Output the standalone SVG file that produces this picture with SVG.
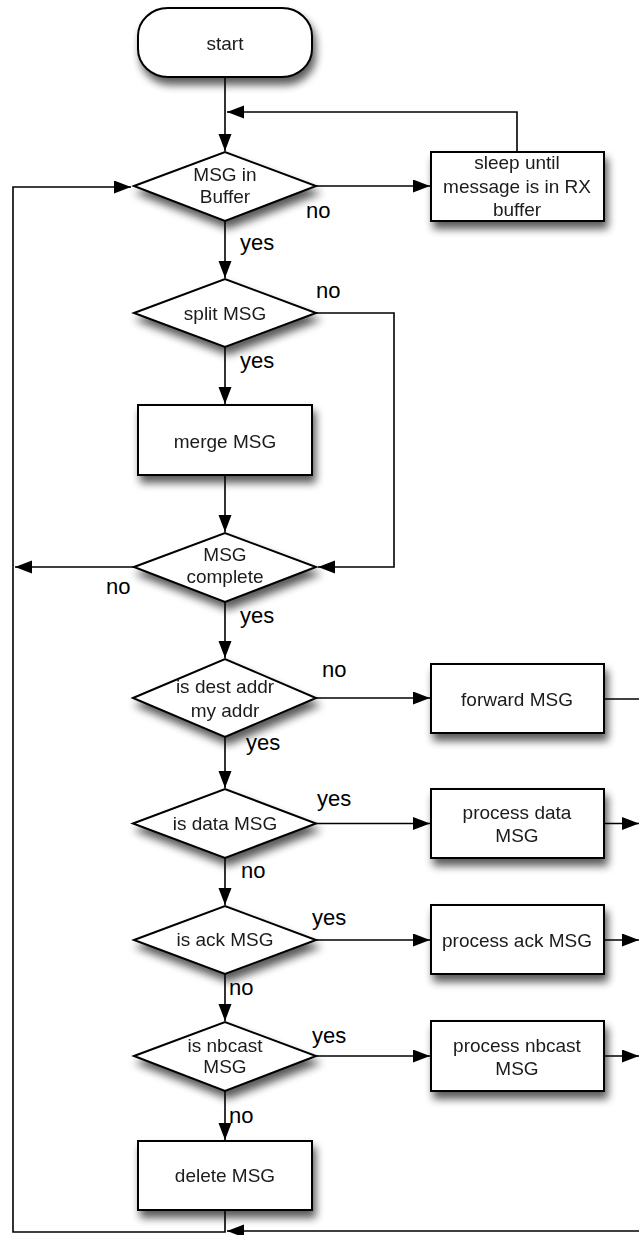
<svg xmlns="http://www.w3.org/2000/svg" width="639" height="1235" viewBox="0 0 639 1235">
<defs>
<filter id="sh" x="-20%" y="-20%" width="150%" height="160%">
<feGaussianBlur in="SourceAlpha" stdDeviation="4"/>
<feOffset dx="3" dy="7" result="b"/>
<feComponentTransfer><feFuncA type="linear" slope="0.65"/></feComponentTransfer>
<feMerge><feMergeNode/><feMergeNode in="SourceGraphic"/></feMerge>
</filter>
<marker id="ah" markerUnits="userSpaceOnUse" markerWidth="18" markerHeight="14" refX="17" refY="6.5" orient="auto">
<path d="M0,0 L17,6.5 L0,13 Z" fill="#000"/>
</marker>
</defs>
<style>
.n{fill:#fff;stroke:#000;stroke-width:2;}
.t{font-family:"Liberation Sans",Arial,sans-serif;font-size:19px;fill:#1a1a1a;text-anchor:middle;}
.l{font-family:"Liberation Sans",Arial,sans-serif;font-size:22px;fill:#000;}
.c{fill:none;stroke:#000;stroke-width:1.6;}
.a{marker-end:url(#ah);}
</style>
<rect width="639" height="1235" fill="#fff"/>
<g id="connectors">
<path class="c a" d="M225,77 V151"/>
<path class="c a" d="M316,186 H430"/>
<path class="c a" d="M517,152 V112 H227"/>
<path class="c a" d="M225,1210 V1232 H13 V187 H131"/>
<path class="c a" d="M225,221 V278"/>
<path class="c a" d="M316,313 H394 V567 H318"/>
<path class="c a" d="M225,347 V404"/>
<path class="c a" d="M225,475 V532"/>
<path class="c a" d="M134,567 H15"/>
<path class="c a" d="M225,602 V658"/>
<path class="c a" d="M316,698 H430"/>
<path class="c" d="M604,699 H639"/>
<path class="c a" d="M225,737 V788"/>
<path class="c a" d="M316,823.5 H430"/>
<path class="c a" d="M604,823.5 H639"/>
<path class="c a" d="M225,858 V905"/>
<path class="c a" d="M316,940 H430"/>
<path class="c a" d="M604,940 H639"/>
<path class="c a" d="M225,974 V1021"/>
<path class="c a" d="M316,1056 H430"/>
<path class="c a" d="M604,1056 H639"/>
<path class="c a" d="M225,1091 V1140"/>
<path class="c a" d="M639,1231 H227"/>
</g>
<g id="labels">
<text class="l" x="306" y="218">no</text>
<text class="l" x="240" y="250">yes</text>
<text class="l" x="316" y="298">no</text>
<text class="l" x="240" y="368">yes</text>
<text class="l" x="106" y="594">no</text>
<text class="l" x="240" y="623">yes</text>
<text class="l" x="322" y="677">no</text>
<text class="l" x="246" y="750">yes</text>
<text class="l" x="317" y="806">yes</text>
<text class="l" x="241" y="878">no</text>
<text class="l" x="312" y="925">yes</text>
<text class="l" x="229" y="995">no</text>
<text class="l" x="312" y="1043">yes</text>
<text class="l" x="229" y="1123">no</text>
</g>
<g id="start" filter="url(#sh)">
<rect class="n" x="138" y="8" width="174" height="69" rx="30" ry="28"/>
<text class="t" x="225" y="50">start</text>
</g>
<g id="msg-in-buffer" filter="url(#sh)">
<polygon class="n" points="134,186 225,152 316,186 225,221"/>
<text class="t" x="225" y="181">MSG in</text>
<text class="t" x="225" y="203">Buffer</text>
</g>
<g id="sleep" filter="url(#sh)">
<rect class="n" x="431" y="152" width="173" height="69"/>
<text class="t" x="517" y="169">sleep until</text>
<text class="t" x="517" y="193">message is in RX</text>
<text class="t" x="517" y="216">buffer</text>
</g>
<g id="split-msg" filter="url(#sh)">
<polygon class="n" points="134,313 225,279 316,313 225,347"/>
<text class="t" x="225" y="320">split MSG</text>
</g>
<g id="merge-msg" filter="url(#sh)">
<rect class="n" x="138" y="405" width="174" height="70"/>
<text class="t" x="225" y="448">merge MSG</text>
</g>
<g id="msg-complete" filter="url(#sh)">
<polygon class="n" points="134,567 225,533 316,567 225,602"/>
<text class="t" x="225" y="561">MSG</text>
<text class="t" x="225" y="583">complete</text>
</g>
<g id="is-dest" filter="url(#sh)">
<polygon class="n" points="133,698 225,659 316,698 225,737"/>
<text class="t" x="225" y="693">is dest addr</text>
<text class="t" x="225" y="717">my addr</text>
</g>
<g id="forward" filter="url(#sh)">
<rect class="n" x="431" y="664" width="173" height="69"/>
<text class="t" x="517" y="706">forward MSG</text>
</g>
<g id="is-data" filter="url(#sh)">
<polygon class="n" points="133,823.5 225,789 316,823.5 225,858"/>
<text class="t" x="225" y="830">is data MSG</text>
</g>
<g id="process-data" filter="url(#sh)">
<rect class="n" x="431" y="789" width="173" height="69"/>
<text class="t" x="517" y="819">process data</text>
<text class="t" x="517" y="842">MSG</text>
</g>
<g id="is-ack" filter="url(#sh)">
<polygon class="n" points="134,940 225,906 316,940 225,974"/>
<text class="t" x="225" y="946">is ack MSG</text>
</g>
<g id="process-ack" filter="url(#sh)">
<rect class="n" x="431" y="905" width="173" height="69"/>
<text class="t" x="517" y="947">process ack MSG</text>
</g>
<g id="is-nbcast" filter="url(#sh)">
<polygon class="n" points="134,1056 225,1022 316,1056 225,1091"/>
<text class="t" x="225" y="1052">is nbcast</text>
<text class="t" x="225" y="1073">MSG</text>
</g>
<g id="process-nbcast" filter="url(#sh)">
<rect class="n" x="431" y="1021" width="173" height="70"/>
<text class="t" x="517" y="1052">process nbcast</text>
<text class="t" x="517" y="1075">MSG</text>
</g>
<g id="delete-msg" filter="url(#sh)">
<rect class="n" x="138" y="1141" width="174" height="69"/>
<text class="t" x="225" y="1182">delete MSG</text>
</g>
</svg>
